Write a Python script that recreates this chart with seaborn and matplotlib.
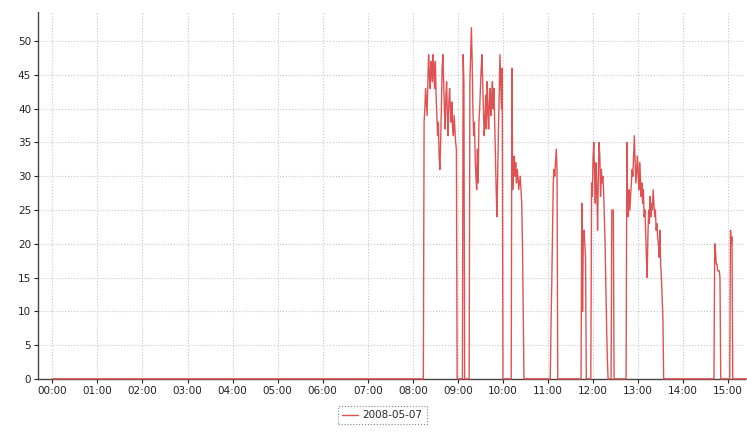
import numpy as np
import pandas as pd
import matplotlib
matplotlib.use("Agg")
import matplotlib.pyplot as plt
import matplotlib.dates as mdates
import seaborn as sns

# 데이터: 분 단위 측정값, 구간 밖은 0
day = "2008-05-07"
seg_starts = ["08:15", "09:07", "09:16", "10:12", "11:04", "11:45", "11:58",
              "12:25", "12:45", "14:42", "15:03"]
seg_values = [
    [38, 40, 43, 41, 39, 44, 48, 45, 43, 47, 46, 44, 48, 45, 43, 47, 42, 39,
     36, 38, 33, 31, 35, 40, 46, 48, 44, 40, 37, 42, 44, 39, 36, 41, 43, 40,
     38, 41, 37, 36, 39, 37, 35, 34],
    [48, 44],
    [44, 48, 52, 47, 40, 36, 38, 33, 30, 28, 34, 29, 38, 40, 43, 46, 48, 44,
     40, 36, 38, 42, 37, 44, 40, 37, 41, 43, 39, 42, 44, 40, 43, 38, 33, 28,
     24, 30, 37, 42, 48, 44, 40, 46],
    [46, 28, 31, 33, 30, 32, 29, 31, 30, 28, 29, 30, 28, 26, 20, 10],
    [8, 14, 22, 29, 31, 30, 32, 34, 31],
    [26, 10, 21, 22, 20, 18],
    [29, 27, 33, 35, 30, 26, 32, 28, 22, 30, 35, 33, 27, 31, 29, 30, 28, 24,
     20, 14, 8, 3],
    [25, 25, 25],
    [35, 26, 24, 28, 25, 27, 29, 31, 30, 33, 36, 32, 29, 31, 33, 30, 28, 32,
     30, 27, 29, 26, 28, 24, 25, 22, 18, 15, 21, 25, 23, 27, 24, 26, 25, 28,
     26, 24, 25, 22, 23, 21, 20, 18, 22, 17, 15, 12, 9],
    [20, 19, 17, 17, 16, 16, 16, 15],
    [22, 20, 21],
]
y_ticks = list(range(0, 55, 5))
series_label = "2008-05-07"

# 분 단위 시간축 만들기
times = pd.date_range(f"{day} 00:00", f"{day} 15:25", freq="1min")
vals = pd.Series(0.0, index=times)
for start, v in zip(seg_starts, seg_values):
    t0 = pd.Timestamp(f"{day} {start}")
    idx = pd.date_range(t0, periods=len(v), freq="1min")
    vals.loc[idx] = v
df = pd.DataFrame({"time": vals.index, "value": vals.values})

# ---------------------------------------------
sns.set_style("white")
plt.rcParams["font.family"] = ["DejaVu Sans"]

fig, ax = plt.subplots(figsize=(7.47, 4.32), dpi=100)
fig.subplots_adjust(left=0.051, right=0.997, top=0.972, bottom=0.123)

sns.lineplot(data=df, x="time", y="value", ax=ax, color="#e05252",
             linewidth=1.0, label=series_label, zorder=3, clip_on=False)

# 축 범위
ax.set_xlim(pd.Timestamp(f"{day} 00:00") - pd.Timedelta(minutes=19),
            pd.Timestamp(f"{day} 15:22"))
ax.set_ylim(0, 54.3)
ax.set_yticks(y_ticks)
ax.xaxis.set_major_locator(mdates.HourLocator())
ax.xaxis.set_major_formatter(mdates.DateFormatter("%H:%M"))
ax.set_xlabel("")
ax.set_ylabel("")

# 그리드 (점선)
ax.grid(True, color="#c8c8c8", linestyle=":", linewidth=0.8)
ax.set_axisbelow(True)

# 축선 설정
for side in ["top", "right"]:
    ax.spines[side].set_visible(False)
for side in ["left", "bottom"]:
    ax.spines[side].set_color("#444444")
    ax.spines[side].set_linewidth(1.0)
ax.tick_params(axis="both", labelsize=7.5, colors="#222222", length=3,
               width=0.8, direction="out", pad=2)
ax.tick_params(left=True, bottom=True)

# 범례: 아래 가운데
leg = ax.legend(loc="upper center", bbox_to_anchor=(0.487, -0.06),
                frameon=True, fancybox=False, fontsize=7.5,
                handlelength=1.6, borderpad=0.4, handletextpad=0.4)
frame = leg.get_frame()
frame.set_edgecolor("#666666")
frame.set_linestyle(":")
frame.set_linewidth(0.8)

fig.savefig("out.png", dpi=100)
